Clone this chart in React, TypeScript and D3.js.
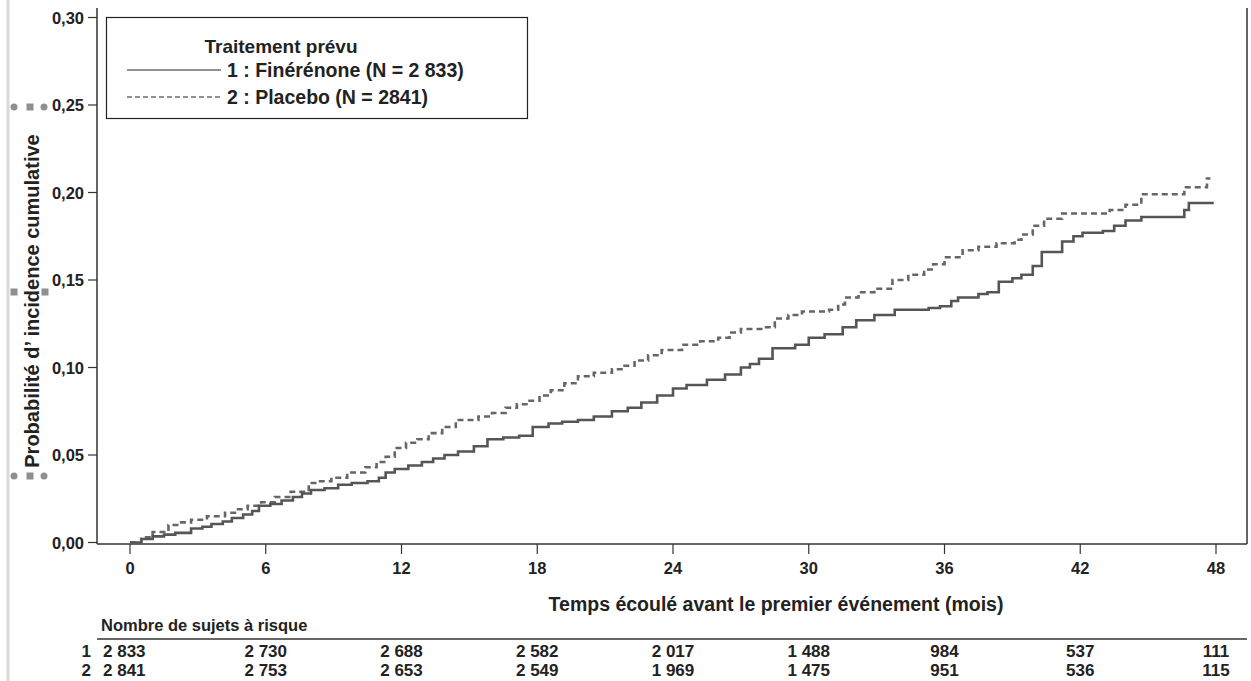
import React from 'react';
import * as d3 from 'd3';

// courbes d'incidence cumulative : [mois, probabilité]
const finerenone: [number, number][] = [
  [0, 0], [0.5, 0.002], [1, 0.0035], [1.5, 0.0045], [2, 0.0055], [2.7, 0.008], [3.2, 0.009], [3.6, 0.0106],
  [4.1, 0.012], [4.5, 0.014], [5, 0.016], [5.4, 0.018], [5.7, 0.021], [6.2, 0.022], [6.7, 0.024], [7.2, 0.026],
  [7.6, 0.028], [8, 0.03], [8.6, 0.031], [9.2, 0.033], [9.8, 0.034], [10.5, 0.035], [11, 0.037], [11.3, 0.04],
  [11.7, 0.042], [12.3, 0.044], [12.9, 0.046], [13.4, 0.048], [13.9, 0.05], [14.5, 0.052], [15.2, 0.055],
  [15.8, 0.059], [16.5, 0.06], [17.2, 0.061], [17.8, 0.066], [18.5, 0.068], [19.1, 0.069], [19.8, 0.07],
  [20.5, 0.072], [21.3, 0.075], [22, 0.077], [22.6, 0.08], [23.3, 0.084], [24, 0.088], [24.6, 0.09],
  [25.5, 0.093], [26.3, 0.096], [27, 0.1], [27.4, 0.102], [27.8, 0.105], [28.4, 0.111], [29.4, 0.113],
  [30, 0.117], [30.7, 0.119], [31.5, 0.123], [32.1, 0.127], [32.9, 0.13], [33.8, 0.133], [35.3, 0.134],
  [35.8, 0.135], [36.3, 0.138], [36.6, 0.14], [37.5, 0.142], [37.9, 0.143], [38.4, 0.149], [39, 0.151],
  [39.4, 0.153], [39.9, 0.158], [40.3, 0.166], [41.2, 0.172], [41.7, 0.175], [42.1, 0.177], [43, 0.178],
  [43.5, 0.181], [44, 0.184], [44.7, 0.186], [46.6, 0.19], [46.8, 0.194], [47.9, 0.194],
];

const placebo: [number, number][] = [
  [0, 0], [0.5, 0.003], [1, 0.006], [1.7, 0.01], [2.2, 0.0115], [2.7, 0.013], [3.4, 0.015], [4.2, 0.017],
  [4.7, 0.019], [5.2, 0.021], [5.8, 0.023], [6.4, 0.026], [7.1, 0.029], [7.9, 0.034], [8.4, 0.035],
  [8.9, 0.037], [9.6, 0.04], [10.4, 0.043], [10.9, 0.046], [11.3, 0.049], [11.7, 0.054], [12.2, 0.057],
  [12.7, 0.059], [13.2, 0.0625], [13.8, 0.066], [14.4, 0.07], [15.4, 0.072], [16, 0.074], [16.6, 0.077],
  [17.1, 0.079], [17.6, 0.081], [18.1, 0.084], [18.6, 0.087], [19.2, 0.091], [19.8, 0.095], [20.5, 0.097],
  [21.3, 0.099], [21.8, 0.101], [22.3, 0.104], [22.9, 0.107], [23.5, 0.11], [24.4, 0.113], [25.2, 0.115],
  [26, 0.117], [26.5, 0.12], [27, 0.122], [27.9, 0.123], [28.5, 0.128], [29.1, 0.13], [29.7, 0.132],
  [30.9, 0.133], [31.3, 0.136], [31.6, 0.14], [32.2, 0.143], [32.9, 0.145], [33.7, 0.15], [34.4, 0.153],
  [35.1, 0.156], [35.5, 0.159], [36, 0.163], [36.8, 0.167], [37.5, 0.169], [38.3, 0.171], [39.1, 0.173],
  [39.4, 0.176], [39.9, 0.181], [40.4, 0.185], [41.2, 0.188], [43.3, 0.19], [44, 0.193], [44.7, 0.199],
  [46.6, 0.203], [47.6, 0.208], [47.75, 0.208],
];

const xTicks = [0, 6, 12, 18, 24, 30, 36, 42, 48];
const yTicks = [0, 0.05, 0.1, 0.15, 0.2, 0.25, 0.3];
const atRisk1 = ['2 833', '2 730', '2 688', '2 582', '2 017', '1 488', '984', '537', '111'];
const atRisk2 = ['2 841', '2 753', '2 653', '2 549', '1 969', '1 475', '951', '536', '115'];
const legendLabels = ['1 : Finérénone (N = 2 833)', '2 : Placebo (N = 2841)'];

const W = 1251;
const H = 681;
const font = 'Liberation Sans, Arial, sans-serif';

export default function App() {
  const x = d3.scaleLinear().domain([0, 48]).range([130, 1216]);
  const y = d3.scaleLinear().domain([0, 0.3]).range([542.5, 17.5]);
  const line = d3.line<[number, number]>()
    .x((d) => x(d[0]))
    .y((d) => y(d[1]))
    .curve(d3.curveStepAfter);

  const axisY = 544;
  const left = 97;
  const right = 1247;
  const fmtY = (v: number) => v.toFixed(2).replace('.', ',');

  // poignées de sélection autour du titre de l'axe Y
  const handleColor = '#8f8f8f';

  return (
    <svg width={W} height={H} style={{ position: 'fixed', left: 0, top: 0, background: '#fff' }} fontFamily={font}>
      <line x1={8} x2={8} y1={0} y2={H} stroke="#d9d9d9" strokeWidth={3} />

      {/* cadre */}
      <line x1={left} x2={left} y1={8} y2={axisY} stroke="#333" strokeWidth={1.5} />
      <line x1={left} x2={right} y1={axisY} y2={axisY} stroke="#333" strokeWidth={1.5} />
      <line x1={right} x2={right} y1={8} y2={axisY} stroke="#333" strokeWidth={1.5} />

      {/* axe Y */}
      {yTicks.map((t) => (
        <g key={t}>
          <line x1={88} x2={left} y1={y(t)} y2={y(t)} stroke="#333" strokeWidth={1.2} />
          <text x={84} y={y(t)} textAnchor="end" dominantBaseline="central" fontSize={16.5} fontWeight="bold" fill="#222">
            {fmtY(t)}
          </text>
        </g>
      ))}
      <text
        transform={`translate(39, 301) rotate(-90)`}
        textAnchor="middle"
        fontSize={20}
        fontWeight="bold"
        fill="#222"
      >
        Probabilité d’  incidence cumulative
      </text>
      {[107, 476].map((yy) => (
        <g key={yy} fill={handleColor}>
          <circle cx={14} cy={yy} r={3.5} />
          <rect x={26.5} y={yy - 3.5} width={7} height={7} />
          <circle cx={44} cy={yy} r={3.5} />
        </g>
      ))}
      <g fill={handleColor}>
        <rect x={10.5} y={288.5} width={7} height={7} />
        <rect x={41.5} y={288.5} width={7} height={7} />
      </g>

      {/* axe X */}
      {xTicks.map((t) => (
        <g key={t}>
          <line x1={x(t)} x2={x(t)} y1={axisY} y2={554} stroke="#333" strokeWidth={1.2} />
          <text x={x(t)} y={568} textAnchor="middle" dominantBaseline="central" fontSize={16.5} fontWeight="bold" fill="#222">
            {t}
          </text>
        </g>
      ))}
      <text x={776} y={604} textAnchor="middle" dominantBaseline="central" fontSize={19.5} fontWeight="bold" fill="#222">
        Temps écoulé avant le premier événement (mois)
      </text>

      {/* courbes */}
      <path d={line(placebo) ?? ''} fill="none" stroke="#666" strokeWidth={2.6} strokeDasharray="6,4" />
      <path d={line(finerenone) ?? ''} fill="none" stroke="#555" strokeWidth={2.6} />

      {/* légende */}
      <rect x={106.5} y={17.5} width={421} height={101} fill="#fff" stroke="#222" strokeWidth={1.2} />
      <text x={281} y={46} textAnchor="middle" dominantBaseline="central" fontSize={19} fontWeight="bold" fill="#222">
        Traitement prévu
      </text>
      <line x1={127} x2={221} y1={70} y2={70} stroke="#222" strokeWidth={1.2} />
      <line x1={127} x2={221} y1={97} y2={97} stroke="#222" strokeWidth={1.2} strokeDasharray="5,3" />
      {legendLabels.map((l, i) => (
        <text key={l} x={227} y={70 + i * 27} dominantBaseline="central" fontSize={19.5} fontWeight="bold" fill="#222">
          {l}
        </text>
      ))}

      {/* nombre de sujets à risque */}
      <text x={101} y={625} dominantBaseline="central" fontSize={16.5} fontWeight="bold" fill="#222">
        Nombre de sujets à risque
      </text>
      <line x1={left} x2={right} y1={639} y2={639} stroke="#333" strokeWidth={1.5} />
      {[atRisk1, atRisk2].map((row, r) => (
        <g key={r}>
          <text x={91} y={651 + r * 19} textAnchor="end" dominantBaseline="central" fontSize={17} fontWeight="bold" fill="#222">
            {r + 1}
          </text>
          {row.map((v, i) => (
            <text
              key={i}
              x={i === 0 ? x(0) - 27 : x(xTicks[i])}
              y={651 + r * 19}
              textAnchor={i === 0 ? 'start' : 'middle'}
              dominantBaseline="central"
              fontSize={17}
              fontWeight="bold"
              fill="#222"
            >
              {v}
            </text>
          ))}
        </g>
      ))}
    </svg>
  );
}
